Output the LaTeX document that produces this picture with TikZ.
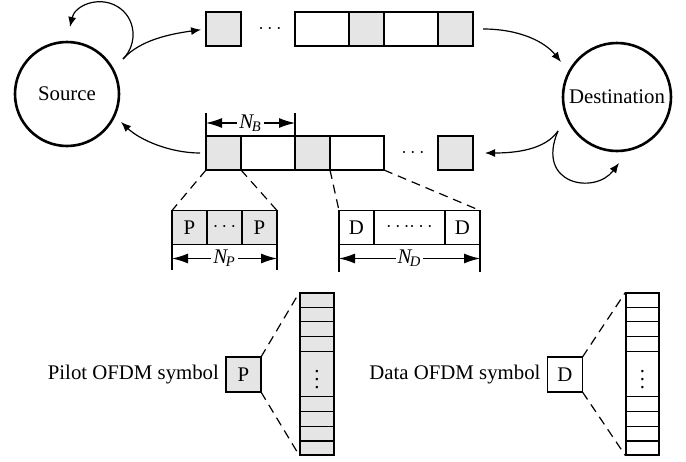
\documentclass[tikz,border=0pt]{standalone}
\usepackage{fontspec}
\setmainfont{Liberation Serif}
\usetikzlibrary{arrows.meta}
\usetikzlibrary{positioning}

\newcommand{\nsub}[1]{\textit{N}\textsubscript{\kern-1.2pt\textit{#1}}}

\begin{document}
\begin{tikzpicture}[x=0.5pt, y=-0.5pt,
    every node/.style={font=\fontsize{10.4}{12}\selectfont},
    party/.style={circle, draw, line width=1.3pt, inner sep=0pt},
    cell/.style={draw, line width=0.6pt, inner sep=0pt, outer sep=0pt, minimum height=17pt},
    pcell/.style={cell, fill=black!10, minimum width=17.5pt},
    dcell/.style={cell, minimum width=27pt},
    col/.style={draw, line width=0.6pt, inner sep=0pt, minimum height=81pt},
    flow/.style={line width=0.6pt, -{Latex[length=5pt, width=4pt]}},
    dimline/.style={line width=0.6pt, {Latex[length=8pt, width=5pt]}-{Latex[length=8pt, width=5pt]}},
    zoomline/.style={line width=0.6pt, dash pattern=on 4.5pt off 3pt}]
  \useasboundingbox (0,0) rectangle (686,461);

  \node[party, minimum size=52pt] (src) at (67,94) {Source};
  \node[party, minimum size=54pt] (dst) at (617,97) {Destination};

  \node[pcell] (t1) at (223.5,29) {};
  \node (tdots) at (270,29) {$\cdots$};
  \node[dcell] (t2) at (322,29) {};
  \node[pcell, right=0pt of t2] (t3) {};
  \node[dcell, right=0pt of t3] (t4) {};
  \node[pcell, right=0pt of t4] (t5) {};

  \node[pcell] (b1) at (223.5,153) {};
  \node[dcell, right=0pt of b1] (b2) {};
  \node[pcell, right=0pt of b2] (b3) {};
  \node[dcell, right=0pt of b3] (b4) {};
  \node (bdots) at (413,153) {$\cdots$};
  \node[pcell] (b5) at (455.5,153) {};

  \coordinate (srcout) at (123,59);
  \coordinate (srcloop) at (70,27);
  \coordinate (srcin) at (121,122);
  \coordinate (dstin) at (561,62);
  \coordinate (dstout) at (558,131);
  \coordinate (dstloop) at (619,163);

  \draw[flow] (srcout) .. controls (138.5,43.3) and (135.8,17.2) .. (117,6.3)
    .. controls (98.2,-4.6) and (74.7,5.7) .. (srcloop);
  \draw[flow, shorten >=2.5pt] (srcout) .. controls (140,40) and (170,34) .. (t1.west);
  \draw[flow, shorten <=5pt] (t5.east) .. controls (520,29) and (545,42) .. (dstin);
  \draw[flow, shorten >=6pt] (dstout) .. controls (545,150) and (515,153) .. (b5.east);
  \draw[flow] (dstout) .. controls (535,185) and (595,195) .. (dstloop);
  \draw[flow, shorten <=3pt] (b1.west) .. controls (170,153) and (140,140) .. (srcin);

  \draw[line width=0.6pt] (b1.north west) -- ([yshift=11.5pt]b1.north west);
  \draw[line width=0.6pt] (b2.north east) -- ([yshift=11.5pt]b2.north east);
  \draw[dimline] ([yshift=6.5pt]b1.north west) -- node[fill=white, inner sep=1pt] {\nsub{B}} ([yshift=6.5pt]b2.north east);

  \node[pcell] (p1) at (189.5,227.5) {P};
  \node[pcell, right=0pt of p1] (p2) {$\cdots$};
  \node[pcell, right=0pt of p2] (p3) {P};

  \node[cell, minimum width=17.5pt] (d1) at (356.5,227.5) {D};
  \node[cell, minimum width=35.5pt, right=0pt of d1] (d2) {$\cdots\!\cdots$};
  \node[cell, minimum width=17.5pt, right=0pt of d2] (d3) {D};

  \draw[zoomline] (b1.south west) -- (p1.north west);
  \draw[zoomline] (b1.south east) -- (p3.north east);
  \draw[zoomline] (b4.south west) -- (d1.north west);
  \draw[zoomline] (b4.south east) -- (d3.north east);

  \draw[line width=0.6pt] (p1.south west) -- ([yshift=-12.5pt]p1.south west);
  \draw[line width=0.6pt] (p3.south east) -- ([yshift=-12.5pt]p3.south east);
  \draw[dimline] ([yshift=-7pt]p1.south west) -- node[fill=white, inner sep=1pt] {\nsub{P}} ([yshift=-7pt]p3.south east);
  \draw[line width=0.6pt] (d1.south west) -- ([yshift=-13.5pt]d1.south west);
  \draw[line width=0.6pt] (d3.south east) -- ([yshift=-13.5pt]d3.south east);
  \draw[dimline] ([yshift=-7pt]d1.south west) -- node[fill=white, inner sep=1pt] {\nsub{D}} ([yshift=-7pt]d3.south east);

  \node[pcell, minimum height=17.5pt] (psym) at (243.5,374.5) {P};
  \node[left=0pt of psym] (plabel) {Pilot OFDM symbol};
  \node[col, fill=black!10, minimum width=17pt] (pcol) at (317,374) {$\vdots$};

  \node[cell, minimum width=17.5pt, minimum height=17.5pt] (dsym) at (565,374.5) {D};
  \node[left=0pt of dsym] (dlabel) {Data OFDM symbol};
  \node[col, minimum width=16.5pt] (dcol) at (642.5,374) {$\vdots$};

  \foreach \sym in {pcol, dcol} {
    \foreach \k in {1,2,3,4} {
      \draw[line width=0.6pt] ([yshift=-7.35*\k pt]\sym.north west) -- ([yshift=-7.35*\k pt]\sym.north east);
      \draw[line width=0.6pt] ([yshift=7.35*\k pt]\sym.south west) -- ([yshift=7.35*\k pt]\sym.south east);
    }
  }

  \draw[zoomline] (psym.north east) -- (pcol.north west);
  \draw[zoomline] (psym.south east) -- (pcol.south west);
  \draw[zoomline] (dsym.north east) -- (dcol.north west);
  \draw[zoomline] (dsym.south east) -- (dcol.south west);
\end{tikzpicture}
\end{document}
